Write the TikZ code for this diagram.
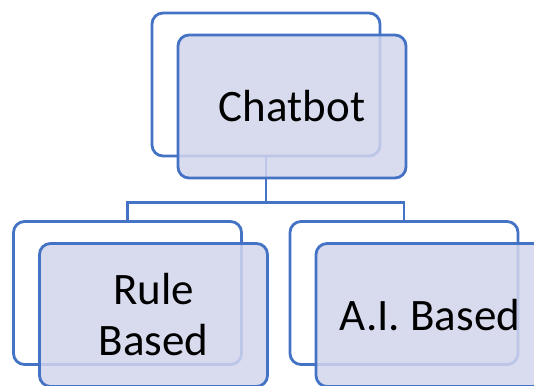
\documentclass[tikz,border=0pt]{standalone}
\usepackage{fontspec}
\setmainfont{Carlito}
\usepackage{tikz}
\usepackage{xcolor}
\definecolor{box-line}{RGB}{68,114,196}
\definecolor{box-fill}{RGB}{210,213,236}
\tikzset{
    back-box/.style = {draw=box-line, fill=white, line width=2.8pt, rectangle, rounded corners=11pt, minimum width=228pt, minimum height=143pt, inner sep=0pt},
    front-box/.style = {back-box, fill=box-fill, fill opacity=0.85, text opacity=1, align=center, font=\fontsize{45}{51}\selectfont},
    tree-line/.style = {draw=box-line, line width=2.8pt},
}
\begin{document}
\begin{tikzpicture}[x=1pt, y=1pt]
\useasboundingbox (0,0) rectangle (534,385);
\clip (0,0) rectangle (534,385);
% back boxes
\node [back-box] (chatbot-back) at (266,300.5) {};
\node [back-box] (rule-back) at (127.5,92) {};
\node [back-box] (ai-back) at (404,92) {};
% tree lines
\coordinate (split) at ([yshift=-45pt]chatbot-back.south);
\draw [tree-line] (chatbot-back.south) -- (split);
\draw [tree-line] (split) -| (rule-back.north);
\draw [tree-line] (split) -| (ai-back.north);
% front boxes
\node [front-box] (chatbot) at ([shift={(26,-22)}]chatbot-back.center) {Chatbot};
\node [front-box] (rule) at ([shift={(26,-22)}]rule-back.center) {Rule\\Based};
\node [front-box] (ai) at ([shift={(26,-22)}]ai-back.center) {A.I. Based};
\end{tikzpicture}
\end{document}
